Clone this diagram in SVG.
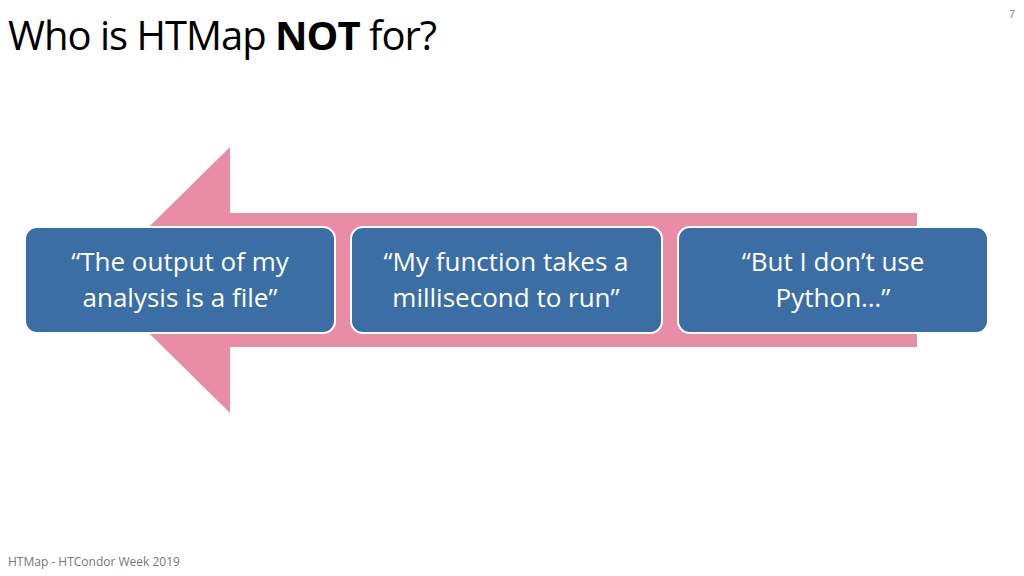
<svg xmlns="http://www.w3.org/2000/svg" width="1024" height="576" viewBox="0 0 1024 576">
<style>
.b{fill:#3B6EA5;stroke:#fff;stroke-width:2}
.t{font-family:"Open Sans","Liberation Sans",sans-serif;font-size:26px;fill:#fff;text-anchor:middle}
</style>
<rect width="1024" height="576" fill="#fff"/>
<text x="8" y="50" font-family="Open Sans,Liberation Sans,sans-serif" font-size="40" fill="#000" letter-spacing="-1">Who is HTMap <tspan font-weight="bold">NOT</tspan> for?</text>
<text x="1015" y="18" font-family="Liberation Sans,sans-serif" font-size="11" fill="#888" text-anchor="end">7</text>
<g id="connectors">
<polygon points="917,213 230,213 230,147 95,280 230,413 230,347 917,347" fill="#E98CA6"/>
</g>
<g id="n1"><rect class="b" x="25" y="227" width="310" height="106" rx="12"/>
<text class="t" x="180" y="271">“The output of my</text><text class="t" x="180" y="307">analysis is a file”</text></g>
<g id="n2"><rect class="b" x="351" y="227" width="311" height="106" rx="12"/>
<text class="t" x="506" y="271">“My function takes a</text><text class="t" x="506" y="307">millisecond to run”</text></g>
<g id="n3"><rect class="b" x="678" y="227" width="310" height="106" rx="12"/>
<text class="t" x="833" y="271">“But I don’t use</text><text class="t" x="833" y="307">Python…”</text></g>
<text x="8" y="566" font-family="Open Sans,Liberation Sans,sans-serif" font-size="12" fill="#777">HTMap - HTCondor Week 2019</text>
</svg>
